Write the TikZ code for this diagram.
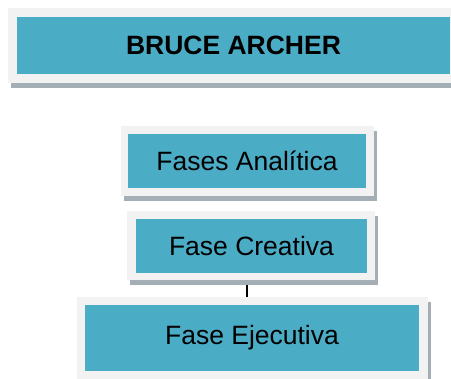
\documentclass[tikz,border=0pt]{standalone}
\usepackage{fontspec}
\setmainfont{Liberation Sans}
\usetikzlibrary{shadows,backgrounds}
\definecolor{boxblue}{HTML}{4BACC6}
\definecolor{framegray}{HTML}{F2F2F2}
\definecolor{shadowgray}{HTML}{A3AFB4}
\tikzset{
  frame/.style={fill=framegray, draw=none, inner sep=0pt,
    drop shadow={shadow xshift=3pt, shadow yshift=-5pt, fill=shadowgray, opacity=1}},
  stagebox/.style={fill=boxblue, draw=none, inner sep=0pt, text=black,
    font=\fontsize{26.5}{31}\selectfont},
  link/.style={draw=black, line width=1.6pt}
}
\begin{document}
\begin{tikzpicture}[x=1pt, y=-1pt]
\useasboundingbox (0,0) rectangle (451,379);
% title
\node[frame, minimum width=451pt, minimum height=75pt] (titleF) at (233.5,45.5) {};
\node[stagebox, minimum width=433pt, minimum height=57pt, font=\fontsize{26.5}{31}\selectfont\bfseries] (title) at (233.5,45.5) {BRUCE ARCHER};
% stages
\node[frame, minimum width=253pt, minimum height=70pt] (analF) at (247.5,161) {};
\node[stagebox, minimum width=238pt, minimum height=54pt] (anal) at (247,161) {Fases Analítica};
\node[frame, minimum width=248pt, minimum height=69pt] (creaF) at (251,245.5) {};
\node[stagebox, minimum width=231pt, minimum height=54pt] (crea) at (251.5,246) {Fase Creativa};
\node[frame, minimum width=351pt, minimum height=82pt] (ejecF) at (252.5,338) {};
\node[stagebox, minimum width=334pt, minimum height=66pt] (ejec) at (252,338) {Fase Ejecutiva};
% connector between the last two stages
\coordinate (lineX) at (247,0);
\begin{scope}[on background layer]
\draw[link] (creaF.south -| lineX) -- (ejecF.north -| lineX);
\end{scope}
\end{tikzpicture}
\end{document}
